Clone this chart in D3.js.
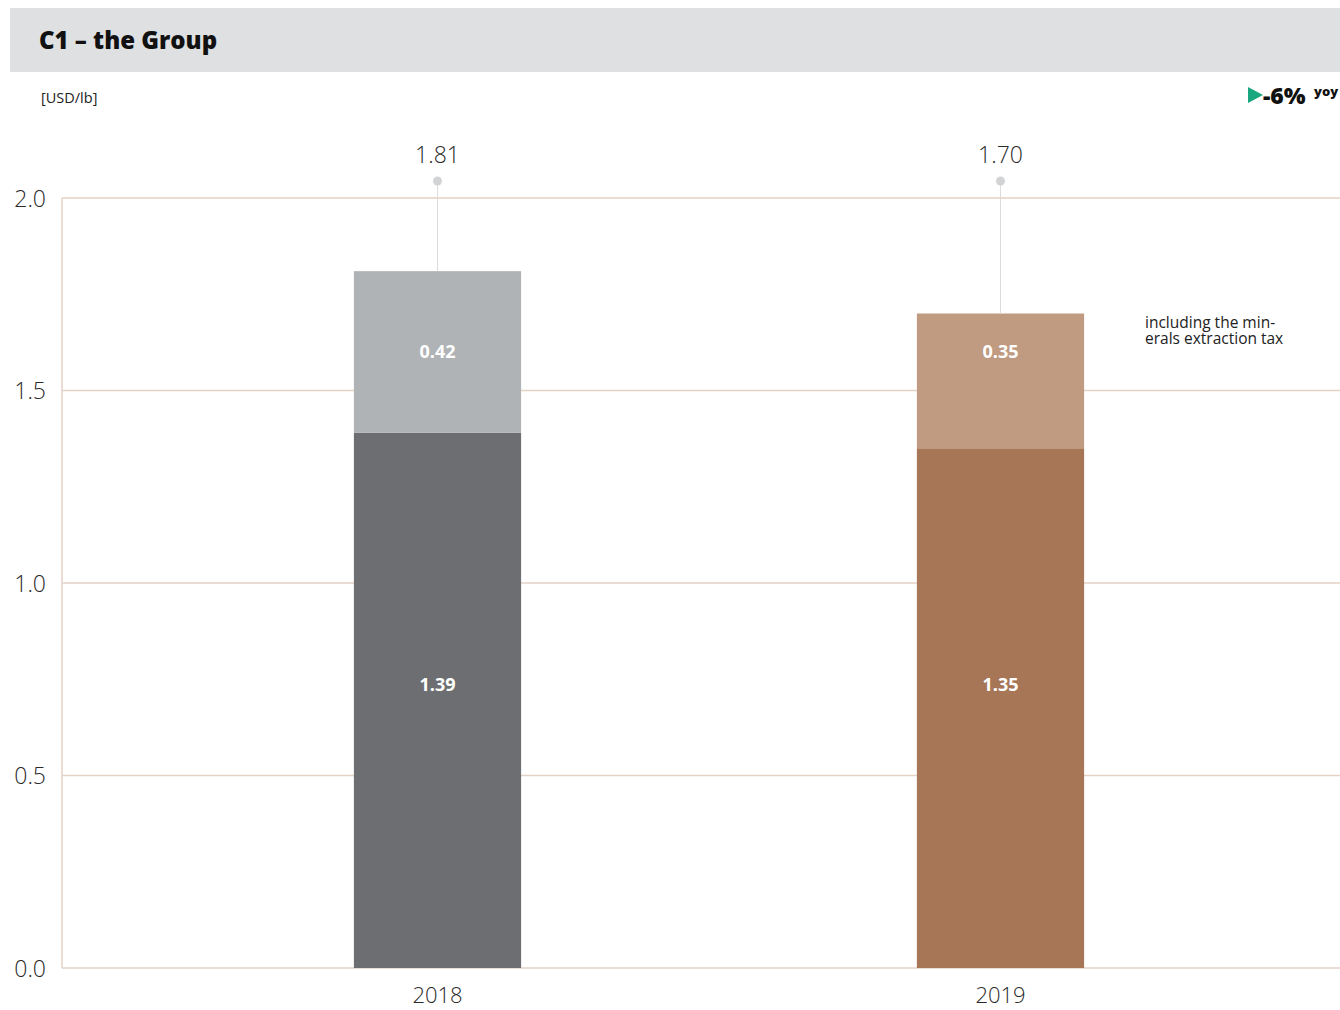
<!DOCTYPE html>
<html>
<head>
<meta charset="UTF-8">
<title>C1 – the Group</title>
<script src="https://d3js.org/d3.v7.min.js"></script>
<style>
    body { margin: 0; background: #fff; }
    text { font-family: "Open Sans", "Noto Sans", sans-serif; }
    .tick line, .domain { display: none; }
    .y-axis text, .x-axis text { font-size: 23px; font-weight: 300; fill: #2a2a2a; }
    .x-axis text { font-size: 22px; }
    .grid-line { stroke: #e4d2c4; stroke-width: 1.5; }
    .seg-label { font-size: 18px; font-weight: 700; fill: #fff; text-anchor: middle; }
    .total-label { font-size: 23px; font-weight: 300; fill: #2a2a2a; text-anchor: middle; }
</style>
</head>
<body>
<script>
    var years = ["2018", "2019"];
    var baseValues = [1.39, 1.35];   // C1 without tax
    var taxValues = [0.42, 0.35];    // minerals extraction tax part
    var totals = [1.81, 1.70];
    var yTicks = [0, 0.5, 1.0, 1.5, 2.0];
    var baseColors = ["#6d6e71", "#a67656"];
    var taxColors = ["#b0b3b5", "#c09b81"];

    var width = 1340, height = 1010;
    var plotLeft = 62, plotRight = 1340, plotTop = 198, plotBottom = 968;

    var svg = d3.select("body").append("svg")
        .attr("width", width)
        .attr("height", height);

    // header band
    svg.append("rect")
        .attr("x", 10).attr("y", 8)
        .attr("width", 1330).attr("height", 64)
        .attr("fill", "#dfe0e2");
    svg.append("text")
        .attr("x", 39).attr("y", 49)
        .style("font-size", "24px").style("font-weight", 800).style("fill", "#111")
        .text("C1 – the Group");

    svg.append("text")
        .attr("x", 41).attr("y", 103)
        .style("font-size", "14.5px").style("fill", "#222")
        .text("[USD/lb]");

    // yoy indicator
    svg.append("path")
        .attr("d", "M1248,87 L1263,95 L1248,103 Z")
        .attr("fill", "#18a77f");
    svg.append("text")
        .attr("x", 1263).attr("y", 104)
        .style("font-size", "23px").style("font-weight", 800).style("fill", "#111")
        .text("-6%");
    svg.append("text")
        .attr("x", 1314).attr("y", 96)
        .style("font-size", "13px").style("font-weight", 800).style("fill", "#111")
        .text("yoy");

    var x = d3.scaleBand()
        .domain(years)
        .range([156, 1282])
        .paddingInner(0.703)
        .paddingOuter(0.3515);

    var y = d3.scaleLinear()
        .domain([0, 2])
        .range([plotBottom, plotTop]);

    // grid
    svg.append("g")
        .selectAll("line")
        .data(yTicks)
        .enter().append("line")
        .attr("class", "grid-line")
        .attr("x1", plotLeft).attr("x2", plotRight)
        .attr("y1", function (d) { return y(d); })
        .attr("y2", function (d) { return y(d); });
    svg.append("line")
        .attr("class", "grid-line")
        .attr("x1", plotLeft).attr("x2", plotLeft)
        .attr("y1", y(2)).attr("y2", y(0));

    svg.append("g")
        .attr("class", "y-axis")
        .attr("transform", "translate(" + (plotLeft - 16) + ",0)")
        .call(d3.axisLeft(y).tickValues(yTicks).tickFormat(d3.format(".1f")).tickSize(0).tickPadding(0))
        .selectAll("text").attr("dy", "0.36em");

    svg.append("g")
        .attr("class", "x-axis")
        .attr("transform", "translate(0," + (plotBottom + 14) + ")")
        .call(d3.axisBottom(x).tickSize(0).tickPadding(0))
        .selectAll("text").attr("dy", "0.95em");

    var rows = years.map(function (yr, i) {
        return { year: yr, base: baseValues[i], tax: taxValues[i], total: totals[i], i: i };
    });

    // bars
    var bars = svg.append("g").selectAll(".bar")
        .data(rows)
        .enter().append("g");

    bars.append("rect")
        .attr("x", function (d) { return x(d.year); })
        .attr("width", x.bandwidth())
        .attr("y", function (d) { return y(d.base); })
        .attr("height", function (d) { return y(0) - y(d.base); })
        .attr("fill", function (d) { return baseColors[d.i]; });

    bars.append("rect")
        .attr("x", function (d) { return x(d.year); })
        .attr("width", x.bandwidth())
        .attr("y", function (d) { return y(d.base + d.tax); })
        .attr("height", function (d) { return y(d.base) - y(d.base + d.tax); })
        .attr("fill", function (d) { return taxColors[d.i]; });

    bars.append("text")
        .attr("class", "seg-label")
        .attr("x", function (d) { return x(d.year) + x.bandwidth() / 2; })
        .attr("y", y(1.6))
        .attr("dy", "0.35em")
        .text(function (d) { return d.tax.toFixed(2); });

    bars.append("text")
        .attr("class", "seg-label")
        .attr("x", function (d) { return x(d.year) + x.bandwidth() / 2; })
        .attr("y", y(0.735))
        .attr("dy", "0.35em")
        .text(function (d) { return d.base.toFixed(2); });

    // total markers
    bars.append("line")
        .attr("x1", function (d) { return x(d.year) + x.bandwidth() / 2; })
        .attr("x2", function (d) { return x(d.year) + x.bandwidth() / 2; })
        .attr("y1", 181)
        .attr("y2", function (d) { return y(d.base + d.tax); })
        .attr("stroke", "#dcdcde").attr("stroke-width", 1);

    bars.append("circle")
        .attr("cx", function (d) { return x(d.year) + x.bandwidth() / 2; })
        .attr("cy", 181)
        .attr("r", 4.5)
        .attr("fill", "#d2d3d5");

    bars.append("text")
        .attr("class", "total-label")
        .attr("x", function (d) { return x(d.year) + x.bandwidth() / 2; })
        .attr("y", 155)
        .attr("dy", "0.35em")
        .text(function (d) { return d.total.toFixed(2); });

    // note
    var note = svg.append("text")
        .attr("x", 1145).attr("y", 328)
        .style("font-size", "15.5px").style("fill", "#222");
    note.append("tspan").attr("x", 1145).text("including the min-");
    note.append("tspan").attr("x", 1145).attr("dy", 16).text("erals extraction tax");
</script>
</body>
</html>
